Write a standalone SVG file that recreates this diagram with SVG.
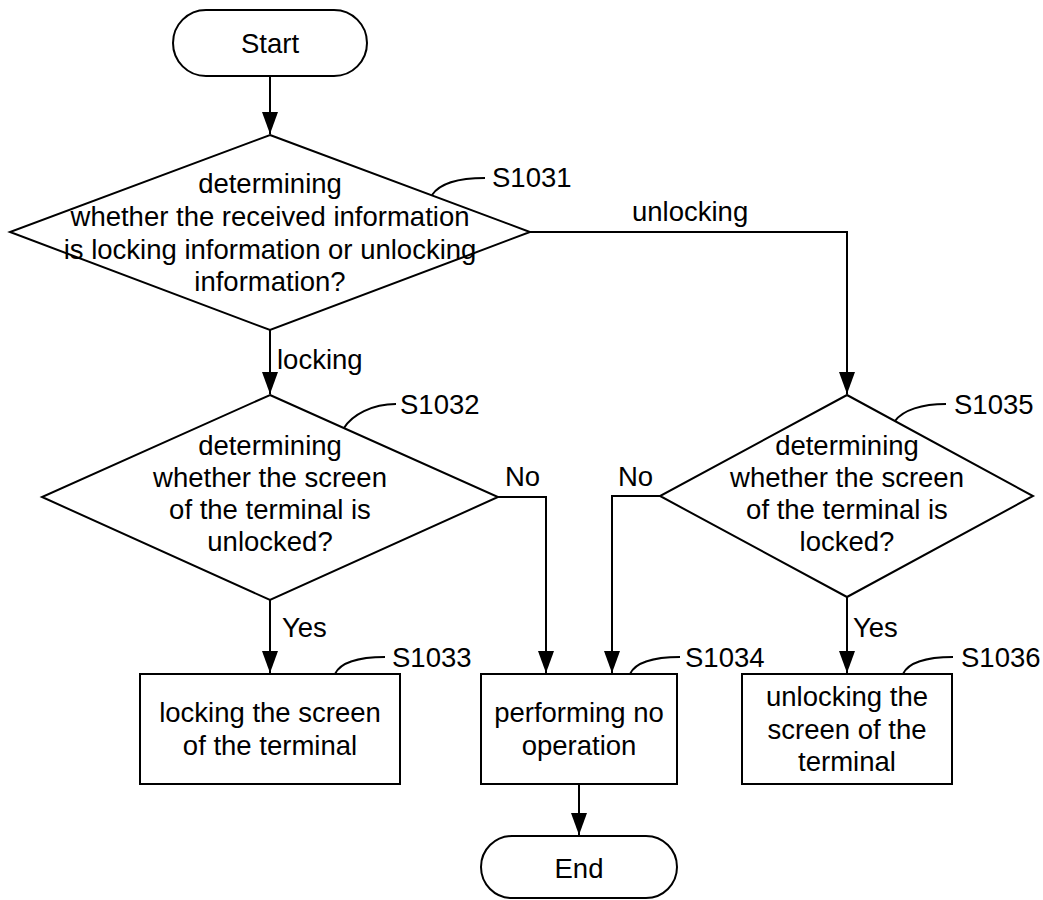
<svg xmlns="http://www.w3.org/2000/svg" width="1043" height="900" viewBox="0 0 1043 900">
<style>
.s{fill:#fff;stroke:#000;stroke-width:2}
.l{fill:none;stroke:#000;stroke-width:2}
.t{font-family:"Liberation Sans",Arial,sans-serif;font-size:27.5px;fill:#000}
.c{text-anchor:middle}
</style>
<defs>
<marker id="ah" viewBox="0 0 22 16" refX="22" refY="8" markerWidth="22" markerHeight="16" markerUnits="userSpaceOnUse" orient="auto"><path d="M0,0 L22,8 L0,16 z"/></marker>
</defs>
<rect width="1043" height="900" fill="#fff"/>
<g id="connectors">
<path class="l" d="M270,77 V134" marker-end="url(#ah)"/>
<path class="l" d="M270,330 V394" marker-end="url(#ah)"/>
<path class="l" d="M530,232 H847 V394" marker-end="url(#ah)"/>
<path class="l" d="M270,600 V673" marker-end="url(#ah)"/>
<path class="l" d="M498,497 H546 V673" marker-end="url(#ah)"/>
<path class="l" d="M660,496 H612 V673" marker-end="url(#ah)"/>
<path class="l" d="M847,597 V673" marker-end="url(#ah)"/>
<path class="l" d="M579,784 V835" marker-end="url(#ah)"/>
<text class="t" x="632" y="221">unlocking</text>
<text class="t" x="277" y="369">locking</text>
<text class="t" x="505" y="486">No</text>
<text class="t" x="618" y="486">No</text>
<text class="t" x="282" y="637">Yes</text>
<text class="t" x="853" y="637">Yes</text>
</g>
<g id="start">
<rect class="s" x="173" y="10" width="194" height="66" rx="33"/>
<text class="t c" x="270" y="53">Start</text>
</g>
<g id="S1031">
<polygon class="s" points="270,135 530,232 270,330 10,232"/>
<text class="t c" x="270" y="193">determining</text>
<text class="t c" x="270" y="226">whether the received information</text>
<text class="t c" x="270" y="259">is locking information or unlocking</text>
<text class="t c" x="270" y="291">information?</text>
<path class="l" d="M432,195 C440,183 460,178 485,178"/>
<text class="t" x="492" y="187">S1031</text>
</g>
<g id="S1032">
<polygon class="s" points="270,395 498,497 270,600 42,497"/>
<text class="t c" x="270" y="455">determining</text>
<text class="t c" x="270" y="487">whether the screen</text>
<text class="t c" x="270" y="519">of the terminal is</text>
<text class="t c" x="270" y="551">unlocked?</text>
<path class="l" d="M344,428 C352,415 372,404 396,404"/>
<text class="t" x="400" y="414">S1032</text>
</g>
<g id="S1035">
<polygon class="s" points="847,395 1033,496 847,597 660,496"/>
<text class="t c" x="847" y="455">determining</text>
<text class="t c" x="847" y="487">whether the screen</text>
<text class="t c" x="847" y="519">of the terminal is</text>
<text class="t c" x="847" y="551">locked?</text>
<path class="l" d="M895,421 C903,410 922,404 946,404"/>
<text class="t" x="954" y="414">S1035</text>
</g>
<g id="S1033">
<rect class="s" x="140" y="674" width="260" height="110"/>
<text class="t c" x="270" y="722">locking the screen</text>
<text class="t c" x="270" y="755">of the terminal</text>
<path class="l" d="M335,674 C340,663 358,657 385,657"/>
<text class="t" x="392" y="667">S1033</text>
</g>
<g id="S1034">
<rect class="s" x="481" y="674" width="196" height="110"/>
<text class="t c" x="579" y="722">performing no</text>
<text class="t c" x="579" y="755">operation</text>
<path class="l" d="M630,674 C635,663 653,657 680,657"/>
<text class="t" x="685" y="667">S1034</text>
</g>
<g id="S1036">
<rect class="s" x="742" y="674" width="210" height="110"/>
<text class="t c" x="847" y="706">unlocking the</text>
<text class="t c" x="847" y="739">screen of the</text>
<text class="t c" x="847" y="771">terminal</text>
<path class="l" d="M903,674 C908,663 926,657 953,657"/>
<text class="t" x="961" y="667">S1036</text>
</g>
<g id="end">
<rect class="s" x="481" y="836" width="196" height="62" rx="31"/>
<text class="t c" x="579" y="878">End</text>
</g>
</svg>
